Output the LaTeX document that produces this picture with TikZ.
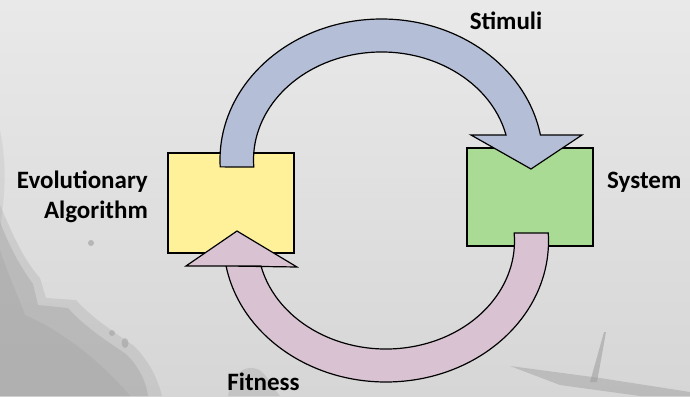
\documentclass[tikz,border=0pt]{standalone}
\usepackage{fontspec}
\setmainfont{Carlito}
\usetikzlibrary{calc}

\definecolor{stimfill}{HTML}{B4BED6}
\definecolor{fitfill}{HTML}{D9C3D3}
\definecolor{eafill}{HTML}{FFF09A}
\definecolor{sysfill}{HTML}{A9DB94}
\definecolor{bgtop}{HTML}{E9E9E9}
\definecolor{bgbot}{HTML}{D6D6D6}
\definecolor{coast}{HTML}{9C9C9C}

\tikzset{
  box/.style={draw=black, line width=1.2pt, minimum width=126pt, minimum height=100pt, inner sep=0pt},
  bigarrow/.style={draw=black, line width=1.2pt, line join=miter},
  label/.style={font=\fontsize{25}{30}\selectfont\bfseries, inner sep=0pt, text=black},
}

\begin{document}
\begin{tikzpicture}[x=1pt, y=1pt]
  % canvas and misty backdrop
  \useasboundingbox (0,0) rectangle (690,-396);
  \shade[top color=bgtop, bottom color=bgbot] (0,0) rectangle (690,-396);
  \fill[black, opacity=0.05] (0,-130) .. controls (8,-170) and (4,-200) .. (0,-230) -- cycle;
  % dark shoreline at the lower left, built up in soft layers
  \fill[coast, opacity=0.25]
    (0,-205) .. controls (14,-238) and (24,-260) .. (40,-278)
    -- (46,-298) -- (76,-300) .. controls (92,-318) and (114,-332) .. (134,-346)
    .. controls (150,-362) and (158,-380) .. (162,-396) -- (0,-396) -- cycle;
  \fill[coast, opacity=0.35]
    (0,-222) .. controls (10,-248) and (20,-266) .. (33,-284)
    -- (38,-305) -- (68,-308) .. controls (84,-326) and (105,-340) .. (126,-354)
    .. controls (140,-368) and (146,-382) .. (148,-396) -- (0,-396) -- cycle;
  \fill[coast, opacity=0.25]
    (0,-250) .. controls (10,-280) and (20,-300) .. (25,-315)
    .. controls (60,-330) and (100,-360) .. (130,-396) -- (0,-396) -- cycle;
  \fill[coast, opacity=0.5] (125,-343) ellipse (3.5 and 5);
  \fill[coast, opacity=0.5] (112,-333) ellipse (3 and 3);
  \fill[coast, opacity=0.6] (91,-243) circle (3);
  % faint hill near the bottom label and the ship at the lower right
  \fill[coast, opacity=0.3] (228,-396) .. controls (232,-370) and (250,-362) .. (262,-372)
    .. controls (270,-380) and (275,-390) .. (280,-396) -- cycle;
  \fill[coast, opacity=0.45] (510,-366) -- (600,-378) -- (690,-392) -- (690,-396)
    -- (640,-396) -- (560,-385) -- cycle;
  \fill[coast, opacity=0.55] (604,-332) -- (606,-332) -- (597,-382) -- (590,-382) -- cycle;

  % the two blocks
  \node[box, fill=eafill, minimum height=100pt] (ea) at (231,-203) {};
  \node[box, fill=sysfill, minimum height=98pt] (sys) at (530,-197) {};

  % centres of the two curved arrows
  \coordinate (ctop) at (381.5,-160);
  \coordinate (cbot) at (386,-241);

  % upper curved arrow, from the algorithm into the system
  \draw[bigarrow, fill=stimfill]
    (ctop) ++(182.8:161.5 and 141)
    arc[start angle=182.8, end angle=10.2, x radius=161.5, y radius=141]
    -- (582,-135) -- (531,-169) -- (471,-135)
    -- ($(ctop)+(13.4:128 and 108)$)
    arc[start angle=13.4, end angle=183.7, x radius=128, y radius=108]
    -- cycle;

  % lower curved arrow, from the system back to the algorithm
  \draw[bigarrow, fill=fitfill]
    (cbot) ++(3.25:162.5 and 141)
    arc[start angle=3.25, end angle=-169.8, x radius=162.5, y radius=141]
    -- (297,-267) -- (237,-231) -- (186,-266)
    -- ($(cbot)+(-166.6:128.5 and 108)$)
    arc[start angle=-166.6, end angle=4.25, x radius=128.5, y radius=108]
    -- cycle;

  % labels
  \node[label, anchor=base] (stim) at (506,-30) {Stimuli};
  \node[label, anchor=base west] (syslab) at (607,-188) {System};
  \node[label, anchor=base east, align=right] (ealab) at (148,-218) {Evolutionary\\Algorithm};
  \node[label, anchor=base] (fit) at (263.5,-390) {Fitness};
\end{tikzpicture}
\end{document}
